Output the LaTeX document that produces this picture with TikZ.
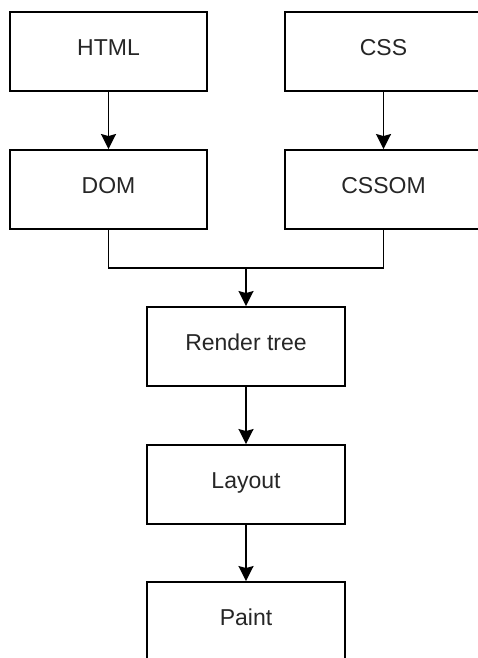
\documentclass[tikz,border=0pt]{standalone}
\usepackage{fontspec}
\setmainfont{Liberation Sans}
\usetikzlibrary{arrows.meta}
\tikzset{
  stagebox/.style={draw=black, line width=1.9pt, rectangle, minimum width=197pt,
    minimum height=79pt, inner sep=0pt, text=black!85,
    text height=17pt, text depth=8.5pt,
    font=\fontsize{23}{27}\selectfont},
  flow/.style={line width=1.9pt, -{Stealth[length=15pt, width=15pt, inset=2pt]}},
  joinline/.style={line width=1.9pt}
}
\begin{document}
\begin{tikzpicture}[x=1pt, y=-1pt]
  \useasboundingbox (0,0) rectangle (478,658);
  \clip (0,0) rectangle (478,658);
  \fill[white] (0,0) rectangle (478,658);

  % source documents and their object models
  \node[stagebox] (html)  at (108.5,51.5)  {HTML};
  \node[stagebox] (css)   at (383.5,51.5)  {CSS};
  \node[stagebox] (dom)   at (108.5,189.5) {DOM};
  \node[stagebox] (cssom) at (383.5,189.5) {CSSOM};

  % rendering pipeline
  \node[stagebox, minimum width=198pt] (render) at (246,346.5) {Render tree};
  \node[stagebox, minimum width=198pt] (layout) at (246,484.5) {Layout};
  \node[stagebox, minimum width=198pt] (paint)  at (246,621.5) {Paint};

  \coordinate (join) at (246,268);

  \draw[flow] (html) -- (dom);
  \draw[flow] (css) -- (cssom);
  \draw[joinline] (dom.south) |- (join);
  \draw[joinline] (cssom.south) |- (join);
  \draw[flow] (join) -- (render.north);
  \draw[flow] (render) -- (layout);
  \draw[flow] (layout) -- (paint);
\end{tikzpicture}
\end{document}
